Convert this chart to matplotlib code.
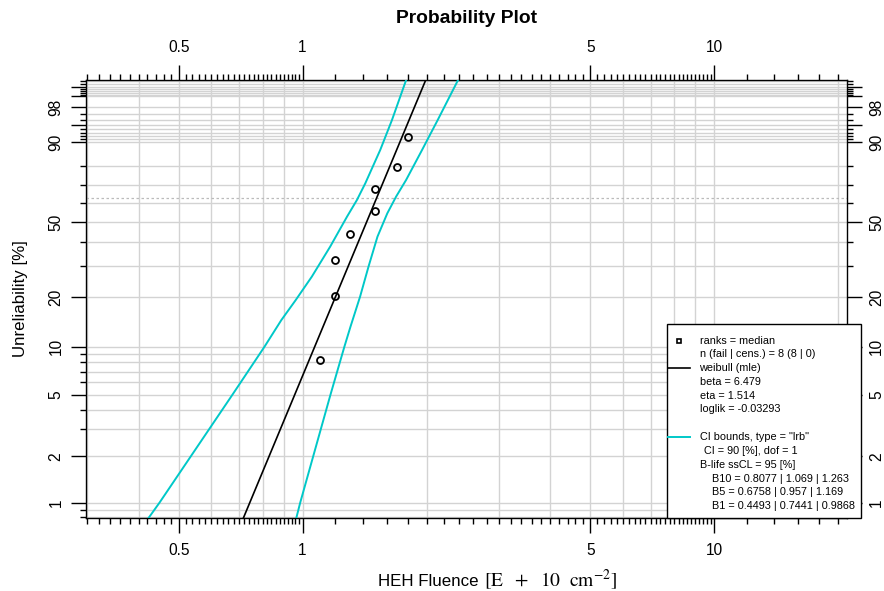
import matplotlib
matplotlib.use("Agg")
import matplotlib.pyplot as plt
from matplotlib.patches import Rectangle
from matplotlib.lines import Line2D
import numpy as np

plt.rcParams['font.family'] = ['Liberation Sans', 'DejaVu Sans']
plt.rcParams['mathtext.fontset'] = 'stix'

# failure data (HEH fluence) and median ranks [%]
fail_x = [1.1, 1.2, 1.2, 1.3, 1.5, 1.5, 1.7, 1.8]
rank_F = [8.33, 20.24, 32.14, 44.05, 55.95, 67.86, 79.76, 91.67]

# weibull mle fit
beta = 6.479
eta = 1.514

# likelihood ratio confidence bounds
ci_lower_F = [0.79, 1, 5, 10, 14.6, 19.2, 26.2, 38.0, 52.8, 61.9, 71.1, 87.2, 96.0, 99.73]
ci_lower_x = [0.422, 0.4493, 0.6758, 0.8077, 0.888, 0.962, 1.053, 1.167, 1.282, 1.355, 1.420, 1.544, 1.648, 1.785]
ci_upper_F = [0.79, 1, 5, 10, 13.3, 20.1, 29.8, 42.6, 54.6, 63.8, 72.9, 87.2, 96.0, 99.73]
ci_upper_x = [0.965, 0.9868, 1.169, 1.263, 1.307, 1.379, 1.446, 1.520, 1.606, 1.687, 1.784, 1.951, 2.128, 2.387]

# axis ticks
x_major = [0.5, 1, 5, 10]
x_major_labels = ['0.5', '1', '5', '10']
x_minor = list(np.arange(0.30, 1.0, 0.02)) + list(np.arange(1.2, 10, 0.2)) + [12, 14, 16, 18, 20]
x_grid = [0.3, 0.4, 0.5, 0.6, 0.7, 0.8, 0.9, 1, 2, 3, 4, 5, 6, 7, 8, 9, 10, 20]
y_major = [1, 2, 5, 10, 20, 50, 90, 95, 98, 99, 99.5]
y_major_labels = ['1', '2', '5', '10', '20', '50', '90', '', '98', '', '']
y_minor = [0.8, 0.9, 3, 4, 6, 7, 8, 9, 30, 40, 60, 70, 80, 91, 92, 93, 94, 96, 97,
           99.1, 99.2, 99.3, 99.4, 99.6, 99.7]

legend_lines = [
    ('ranks = median', 0),
    ('n (fail | cens.) = 8 (8 | 0)', 0),
    ('weibull (mle)', 0),
    ('beta = 6.479', 0),
    ('eta = 1.514', 0),
    ('loglik = -0.03293', 0),
    ('', 0),
    ('CI bounds, type = "lrb"', 0),
    ('CI = 90 [%], dof = 1', 4),
    ('B-life ssCL = 95 [%]', 0),
    ('B10 = 0.8077 | 1.069 | 1.263', 13),
    ('B5 = 0.6758 | 0.957 | 1.169', 13),
    ('B1 = 0.4493 | 0.7441 | 0.9868', 13),
]

W, H = 884, 591


def fwd(p):
    p = np.clip(np.asarray(p, dtype=float), 1e-9, 100 - 1e-9)
    return np.log(-np.log(1 - p / 100))


def inv(w):
    return 100 * (1 - np.exp(-np.exp(w)))


def fx(px):
    return px / W


def fy(py):
    return 1 - py / H


fig = plt.figure(figsize=(W / 100, H / 100), dpi=100)
ax = fig.add_axes([fx(85.5), fy(518.3), fx(847) - fx(85.5), fy(80) - fy(518.3)])
ax.set_xscale('log')
ax.set_yscale('function', functions=(fwd, inv))
ax.set_xlim(0.297, 21.0)
ax.set_ylim(0.7904, 99.726)

# grid
for g in x_grid:
    ax.axvline(g, color='#d3d3d3', lw=1, zorder=0)
for g in y_major + y_minor:
    ax.axhline(g, color='#d3d3d3', lw=1, zorder=0)
ax.axhline(63.21, color='#bbbbbb', lw=0.9, ls=(0, (2, 2)), zorder=0)

# ticks
ax.set_xticks(x_major, labels=x_major_labels)
ax.set_xticks(x_minor, minor=True)
ax.xaxis.set_minor_formatter(plt.NullFormatter())
ax.set_yticks(y_major, labels=y_major_labels)
ax.set_yticks(y_minor, minor=True)
ax.yaxis.set_minor_formatter(plt.NullFormatter())
ax.tick_params(which='both', direction='out', top=True, right=True,
               labeltop=True, labelright=True, color='black', width=1)
ax.tick_params(which='major', length=10.8, labelsize=11.2)
ax.tick_params(which='minor', length=4)
ax.tick_params(axis='x', which='major', pad=7)
ax.tick_params(axis='y', which='major', pad=5, labelrotation=90)
for lab in ax.get_yticklabels():
    lab.set_va('center')
for s in ax.spines.values():
    s.set_linewidth(1)
    s.set_color('black')

# CI bounds
ax.plot(ci_lower_x, ci_lower_F, color='#00c8c8', lw=1.4, zorder=3)
ax.plot(ci_upper_x, ci_upper_F, color='#00c8c8', lw=1.4, zorder=3)

# fit line
F_line = np.array([0.5, 99.9])
x_line = eta * (-np.log(1 - F_line / 100)) ** (1 / beta)
ax.plot(x_line, F_line, color='black', lw=1.2, zorder=4)

# points
ax.plot(fail_x, rank_F, 'o', ms=5, mfc='none', mec='black', mew=1.3, zorder=5)

# titles
fig.text(fx(466), fy(22.7), 'Probability Plot', ha='center', va='baseline',
         fontsize=13.9, fontweight='bold')
fig.text(fx(378), fy(586), 'HEH Fluence', ha='left', va='baseline', fontsize=12.2)
fig.text(fx(484), fy(586), r'$[\mathrm{E}\ \ +\ \ 10\ \ \mathrm{cm}^{-2}]$',
         ha='left', va='baseline', fontsize=14)
fig.text(fx(21), fy(299), 'Unreliability [%]', rotation=90, ha='center',
         va='center', fontsize=12.2)

# legend box
fig.patches.append(Rectangle((fx(666.5), fy(518)), fx(861) - fx(666.5), fy(323.5) - fy(518),
                             transform=fig.transFigure, facecolor='white',
                             edgecolor='black', lw=1, zorder=10))
y0 = 340.5
dy = 13.8
for i, (txt, ind) in enumerate(legend_lines):
    if txt:
        fig.text(fx(699.5 + ind), fy(y0 + i * dy), txt, ha='left', va='center',
                 fontsize=7.8, zorder=11)
fig.lines.append(Line2D([fx(679)], [fy(y0)], marker='s', ms=3.5, mfc='white',
                        mec='black', mew=1.2, transform=fig.transFigure, zorder=11))
fig.lines.append(Line2D([fx(668), fx(690)], [fy(y0 + 2 * dy)] * 2, color='black',
                        lw=1.2, transform=fig.transFigure, zorder=11))
fig.lines.append(Line2D([fx(668), fx(690)], [fy(y0 + 7 * dy)] * 2, color='#00c8c8',
                        lw=1.4, transform=fig.transFigure, zorder=11))

fig.savefig('out.png', dpi=100)
